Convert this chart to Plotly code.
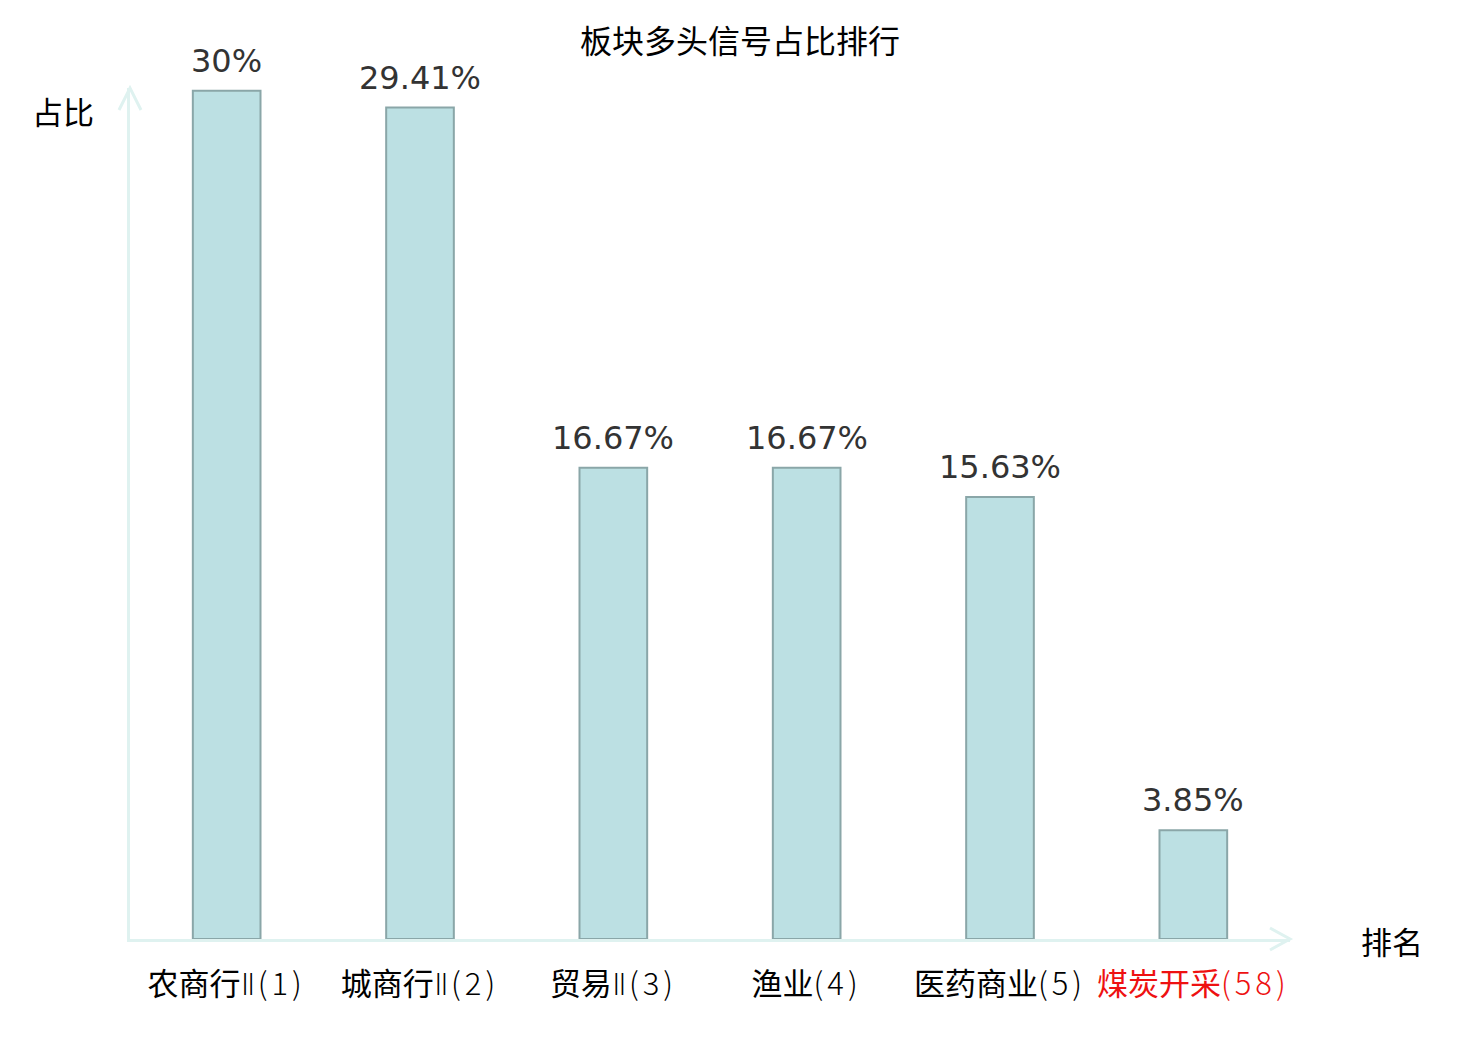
import plotly.graph_objects as go

cat_names = ["农商行Ⅱ", "城商行Ⅱ", "贸易Ⅱ", "渔业", "医药商业", "煤炭开采"]
ranks = [1, 2, 3, 4, 5, 58]
values = [30, 29.41, 16.67, 16.67, 15.63, 3.85]
highlight = [False, False, False, False, False, True]
title_text = "板块多头信号占比排行"
y_name = "占比"
x_name = "排名"

OFF = 8  # page body margin
W, H = 1480 - 2 * OFF, 1040 - 2 * OFF
PW, PH = 1160, 851
ML, MT = 130 - OFF, 88 - OFF
MR, MB = W - ML - PW, H - MT - PH
AX = "#dff2f0"
CJK = "Noto Sans CJK SC"


def px(x):
    return (x - OFF - ML) / PW


def py(y):
    return (H + OFF - MB - y) / PH


def split_label(name):
    base = name.rstrip("Ⅱ")
    roman = name[len(base):]
    return base, roman


categories = [f"{n}({r})" for n, r in zip(cat_names, ranks)]
ticktext = []
for n, r, h in zip(cat_names, ranks, highlight):
    base, roman = split_label(n)
    rom = f"<span style='font-family:DejaVu Sans;font-weight:200;letter-spacing:2px'>{roman}</span>" if roman else ""
    lab = f"{base}{rom}<span style='font-weight:300;letter-spacing:4px'>({r})</span>"
    if h:
        lab = f"<span style='color:#ee1111'>{lab}</span>"
    ticktext.append(lab)

fig = go.Figure(go.Bar(
    x=categories, y=values, width=0.35,
    marker=dict(color="rgb(188,224,227)", line=dict(color="rgb(138,166,168)", width=2)),
    hoverinfo="x+y",
))

for c, v in zip(categories, values):
    fig.add_annotation(x=c, y=v, xref="x", yref="y", text=f"{v:g}%", showarrow=False,
                       yanchor="bottom", yshift=9,
                       font=dict(family="DejaVu Sans", size=32, color="#333333"))

fig.add_annotation(xref="paper", yref="paper", x=px(63), y=py(110), text=y_name, showarrow=False,
                   xanchor="center", yanchor="middle", font=dict(family=CJK, size=31, color="black"))
fig.add_annotation(xref="paper", yref="paper", x=px(1392), y=py(941), text=x_name, showarrow=False,
                   xanchor="center", yanchor="middle", font=dict(family=CJK, size=31, color="black"))

# axis arrow heads (open chevrons)
fig.add_shape(type="path", xref="paper", yref="paper",
              path=f"M {px(119)},{py(110)} L {px(130)},{py(88)} L {px(141)},{py(110)}",
              line=dict(color=AX, width=3))
fig.add_shape(type="path", xref="paper", yref="paper",
              path=f"M {px(1270)},{py(928)} L {px(1290)},{py(939)} L {px(1270)},{py(950)}",
              line=dict(color=AX, width=3))

fig.update_layout(
    width=W, height=H,
    margin=dict(l=ML, r=MR, t=MT, b=MB),
    paper_bgcolor="white", plot_bgcolor="white",
    showlegend=False,
    title=dict(text=title_text, x=0.5 + (740 - OFF - W / 2) / W, xref="container", xanchor="center",
               y=1 - (42 - OFF) / H, yref="container", yanchor="middle",
               font=dict(family=CJK, size=32, color="black")),
    xaxis=dict(range=[-0.5, 5.5], showline=True, linecolor=AX, linewidth=3,
               showgrid=False, zeroline=False, ticks="outside", ticklen=16,
               tickcolor="rgba(0,0,0,0)", tickvals=categories, ticktext=ticktext,
               tickfont=dict(family=CJK, size=31, color="black")),
    yaxis=dict(range=[0, 30.1], showline=True, linecolor=AX, linewidth=3,
               showgrid=False, zeroline=False, showticklabels=False, ticks=""),
)

fig.write_html("out.html")
